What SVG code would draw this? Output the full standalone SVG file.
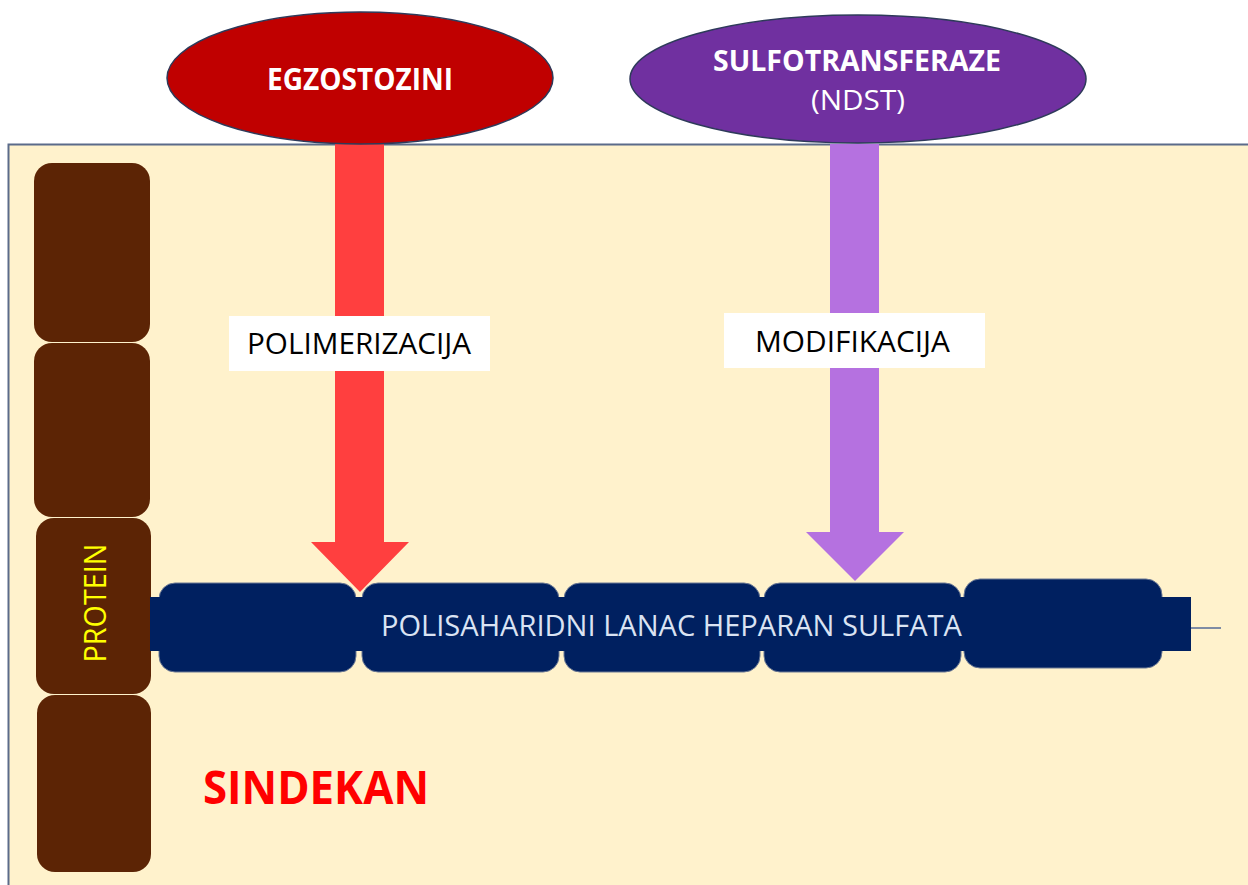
<svg xmlns="http://www.w3.org/2000/svg" width="1248" height="885" viewBox="0 0 1248 885">
<style>
.t{font-family:"Open Sans","Liberation Sans",sans-serif;}
.prot{fill:#5c2405;}
.seg{fill:#002060;stroke:#6a7894;stroke-width:1;}
.lbl{fill:#ffffff;}
</style>
<rect x="0" y="0" width="1248" height="885" fill="#ffffff"/>
<g id="background">
<rect x="8.5" y="144.5" width="1250" height="760" fill="#fff2cc" stroke="#5b6b8a" stroke-width="2"/>
</g>
<g id="protein">
<rect class="prot" x="34" y="163" width="116" height="179" rx="18"/>
<rect class="prot" x="34" y="343" width="116" height="174" rx="18"/>
<rect class="prot" x="36" y="518" width="115" height="176" rx="18"/>
<rect class="prot" x="37" y="695" width="114" height="177" rx="18"/>
<text class="t" x="0" y="0" transform="translate(106,603) rotate(-90)" text-anchor="middle" font-size="31" fill="#ffff00" textLength="119" lengthAdjust="spacingAndGlyphs">PROTEIN</text>
</g>
<g id="connectors">
<polygon id="arrow-polimerizacija" points="335,144 384,144 384,542 409,542 360,592 311,542 335,542" fill="#ff3f3f"/>
<polygon id="arrow-modifikacija" points="830,144 879,144 879,532 904,532 855,581 806,532 830,532" fill="#b571e0"/>
</g>
<g id="chain">
<rect class="seg" x="159" y="583" width="197" height="89" rx="16"/>
<rect class="seg" x="362" y="583" width="197" height="89" rx="16"/>
<rect class="seg" x="564" y="583" width="196" height="89" rx="16"/>
<rect class="seg" x="764" y="583" width="197" height="89" rx="16"/>
<rect class="seg" x="964" y="579" width="198" height="89" rx="16"/>
<rect x="150" y="597" width="1041" height="54" fill="#002060"/>
<line x1="1191" y1="628" x2="1221" y2="628" stroke="#7f8ca4" stroke-width="2"/>
<text class="t" x="381" y="636" font-size="30" fill="#dae3f3" textLength="581" lengthAdjust="spacingAndGlyphs">POLISAHARIDNI LANAC HEPARAN SULFATA</text>
</g>
<g id="egzostozini">
<ellipse cx="360" cy="78" rx="193" ry="66" fill="#c00000" stroke="#2e3a5a" stroke-width="1.5"/>
<text class="t" x="267" y="90" font-size="30" font-weight="bold" fill="#ffffff" textLength="186" lengthAdjust="spacingAndGlyphs">EGZOSTOZINI</text>
</g>
<g id="sulfotransferaze">
<ellipse cx="858" cy="79" rx="228" ry="64" fill="#7030a0" stroke="#2e3a5a" stroke-width="1.5"/>
<text class="t" x="713" y="71" font-size="28" font-weight="bold" fill="#ffffff" textLength="288" lengthAdjust="spacingAndGlyphs">SULFOTRANSFERAZE</text>
<text class="t" x="811" y="110" font-size="27" fill="#ffffff" textLength="94" lengthAdjust="spacingAndGlyphs">(NDST)</text>
</g>
<g id="polimerizacija">
<rect class="lbl" x="229" y="316" width="261" height="55"/>
<text class="t" x="247" y="354" font-size="30" fill="#000000" textLength="224" lengthAdjust="spacingAndGlyphs">POLIMERIZACIJA</text>
</g>
<g id="modifikacija">
<rect class="lbl" x="724" y="313" width="261" height="55"/>
<text class="t" x="755" y="352" font-size="30" fill="#000000" textLength="195" lengthAdjust="spacingAndGlyphs">MODIFIKACIJA</text>
</g>
<g id="sindekan">
<text class="t" x="203" y="804" font-size="47" font-weight="bold" fill="#ff0000" textLength="226" lengthAdjust="spacingAndGlyphs">SINDEKAN</text>
</g>
</svg>
